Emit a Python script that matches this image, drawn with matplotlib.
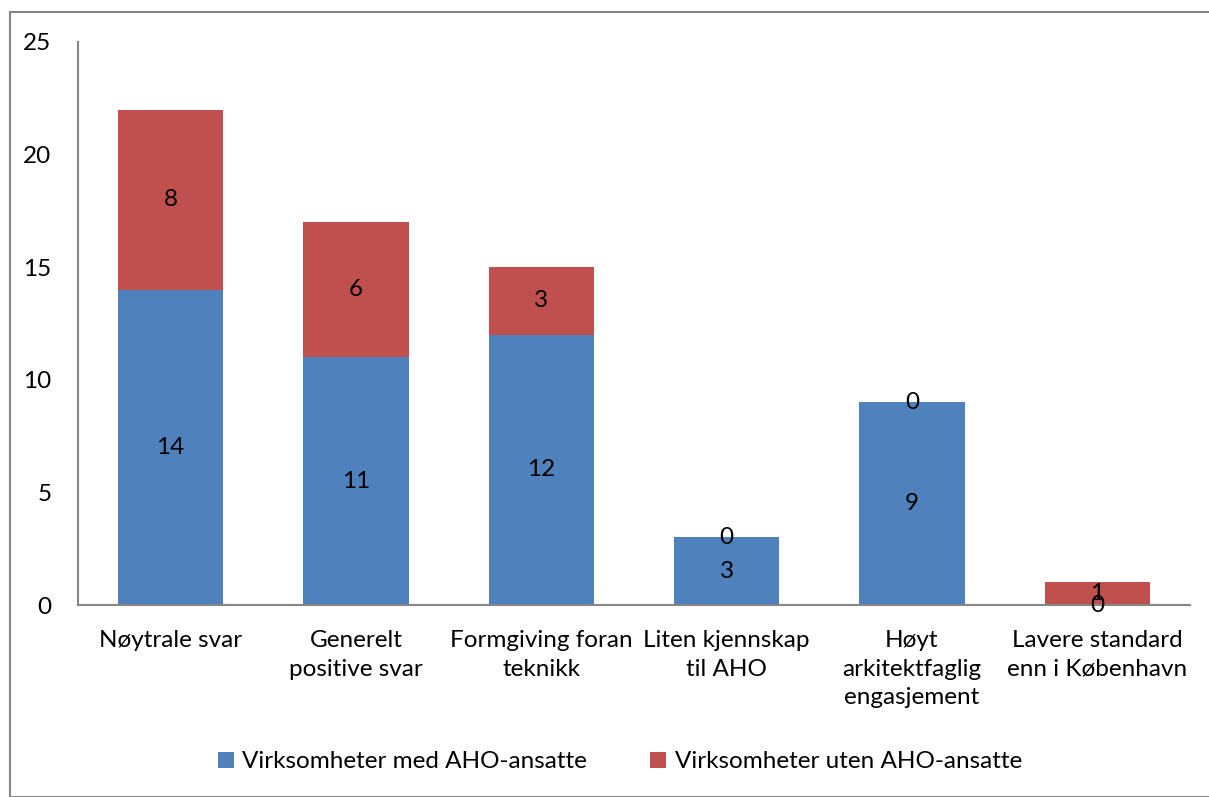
import matplotlib.pyplot as plt
import numpy as np
from matplotlib.patches import Rectangle

plt.rcParams['font.family'] = ['Lato', 'DejaVu Sans']

categories = ["Nøytrale svar", "Generelt\npositive svar", "Formgiving foran\nteknikk",
              "Liten kjennskap\ntil AHO", "Høyt\narkitektfaglig\nengasjement",
              "Lavere standard\nenn i København"]
med_aho = [14, 11, 12, 3, 9, 0]
uten_aho = [8, 6, 3, 0, 0, 1]
series_labels = ["Virksomheter med AHO-ansatte", "Virksomheter uten AHO-ansatte"]
colors = ["#4F81BD", "#C0504D"]

W, H = 1209, 797
fs = 17.5
fig = plt.figure(figsize=(W / 100, H / 100), dpi=100)
ax = fig.add_axes([78 / W, 1 - 605 / H, (1190 - 78) / W, (605 - 42) / H])

x = np.arange(len(categories))
b1 = ax.bar(x, med_aho, width=0.57, color=colors[0], label=series_labels[0])
b2 = ax.bar(x, uten_aho, width=0.57, bottom=med_aho, color=colors[1], label=series_labels[1])

for i in range(len(categories)):
    ax.text(x[i], med_aho[i] / 2, str(med_aho[i]), ha="center", va="center", fontsize=fs)
    ax.text(x[i], med_aho[i] + uten_aho[i] / 2, str(uten_aho[i]), ha="center", va="center", fontsize=fs)

ax.set_xlim(-0.5, len(categories) - 0.5)
ax.set_ylim(0, 25)
ax.set_yticks(range(0, 26, 5))
ax.set_xticks(x)
ax.set_xticklabels(categories, fontsize=fs, linespacing=1.45, va="top")
ax.tick_params(axis="both", length=0, labelsize=fs)
ax.tick_params(axis="y", pad=19)
ax.tick_params(axis="x", pad=18)
for s in ["top", "right"]:
    ax.spines[s].set_visible(False)
for s in ["left", "bottom"]:
    ax.spines[s].set_color("#868686")
    ax.spines[s].set_linewidth(1.5)

fig.legend(handles=[b1, b2], labels=series_labels, loc="center", bbox_to_anchor=(620 / W, 1 - 762 / H),
           ncol=2, frameon=False, fontsize=fs, handlelength=0.65, handleheight=0.65,
           handletextpad=0.35, columnspacing=2.6)

fig.patches.append(Rectangle((10 / W, 0), 1.2, 1 - 12 / H, transform=fig.transFigure,
                             fill=False, edgecolor="#868686", linewidth=1.5))

fig.savefig("out.png", dpi=100)
